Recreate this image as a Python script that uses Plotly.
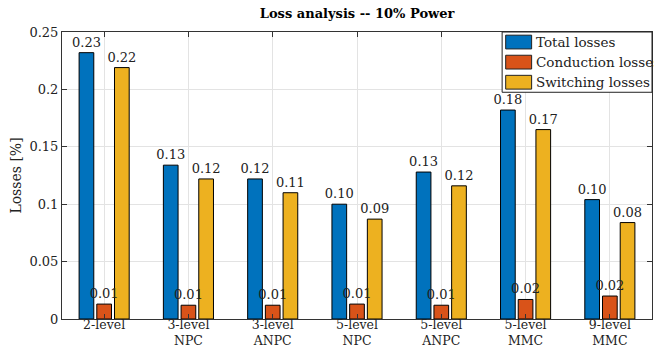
import plotly.graph_objects as go

categories = ["2-level", "3-level<br>NPC", "3-level<br>ANPC", "5-level<br>NPC",
              "5-level<br>ANPC", "5-level<br>MMC", "9-level<br>MMC"]
total_losses = [0.232, 0.134, 0.122, 0.100, 0.128, 0.182, 0.104]
conduction_losses = [0.013, 0.012, 0.012, 0.013, 0.012, 0.017, 0.020]
switching_losses = [0.219, 0.122, 0.110, 0.087, 0.116, 0.165, 0.084]
y_ticks = [0, 0.05, 0.1, 0.15, 0.2, 0.25]
y_tick_labels = ["0", "0.05", "0.1", "0.15", "0.2", "0.25"]

FONT = "DejaVu Serif"
series = [
    ("Total losses", total_losses, "#0072BD"),
    ("Conduction losses", conduction_losses, "#D95319"),
    ("Switching losses", switching_losses, "#EDB120"),
]
xs = list(range(1, len(categories) + 1))

fig = go.Figure()
# Filled bars first
for i, (name, vals, color) in enumerate(series):
    fig.add_trace(go.Bar(
        x=xs, y=vals, name=name, offsetgroup=str(i),
        marker=dict(color=color, line=dict(color="black", width=1)),
        showlegend=False, hoverinfo="skip",
    ))
# Transparent copies carrying the value labels, drawn on top of every bar
for i, (name, vals, color) in enumerate(series):
    fig.add_trace(go.Bar(
        x=xs, y=vals, name=name, offsetgroup=str(i),
        marker=dict(color="rgba(0,0,0,0)", line=dict(width=0)),
        text=[f"{v:.2f}" for v in vals], textposition="outside",
        constraintext="none", cliponaxis=False,
        textfont=dict(family=FONT, size=13, color="#222"),
        showlegend=False,
    ))

# Legend box drawn in the upper-right corner of the axes
shapes = [dict(type="rect", xref="paper", yref="paper", x0=0.746, x1=1.0,
               y0=0.79, y1=1.0, line=dict(color="#222", width=1),
               fillcolor="white", layer="above")]
annotations = []
row_h = 0.21 / 3
for i, (name, _, color) in enumerate(series):
    yc = 1.0 - row_h * (i + 0.5)
    shapes.append(dict(type="rect", xref="paper", yref="paper",
                       x0=0.752, x1=0.796, y0=yc - 0.024, y1=yc + 0.024,
                       fillcolor=color, line=dict(color="#222", width=1),
                       layer="above"))
    annotations.append(dict(text=name, xref="paper", yref="paper", x=0.8, y=yc,
                            xanchor="left", yanchor="middle", showarrow=False,
                            font=dict(family=FONT, size=13.5, color="#222")))

fig.update_layout(
    width=654, height=347,
    margin=dict(l=62, r=2, t=32, b=28),
    paper_bgcolor="white", plot_bgcolor="white",
    barmode="group", bargap=0.37, bargroupgap=0.17,
    font=dict(family=FONT, size=13, color="#222"),
    title=dict(text="<b>Loss analysis -- 10% Power</b>", x=0.546, xanchor="center",
               y=0.975, yanchor="top", font=dict(family=FONT, size=13, color="black")),
    shapes=shapes, annotations=annotations,
    showlegend=False,
)
fig.update_xaxes(
    range=[0.5, 7.5], tickvals=xs, ticktext=categories,
    showgrid=True, gridcolor="#e3e3e3", showline=True, linecolor="#333",
    mirror="ticks", ticks="inside", ticklen=5, tickcolor="#333",
    tickfont=dict(family=FONT, size=12.5), zeroline=False, automargin=False,
    ticklabelstandoff=-6,
)
fig.update_yaxes(
    range=[0, 0.25], tickvals=y_ticks, ticktext=y_tick_labels,
    showgrid=True, gridcolor="#e3e3e3", showline=True, linecolor="#333",
    mirror="ticks", ticks="inside", ticklen=5, tickcolor="#333",
    tickfont=dict(family=FONT, size=13), zeroline=False, automargin=False,
    title=dict(text="Losses [%]", font=dict(family=FONT, size=14), standoff=4),
)

fig.write_html("out.html")
